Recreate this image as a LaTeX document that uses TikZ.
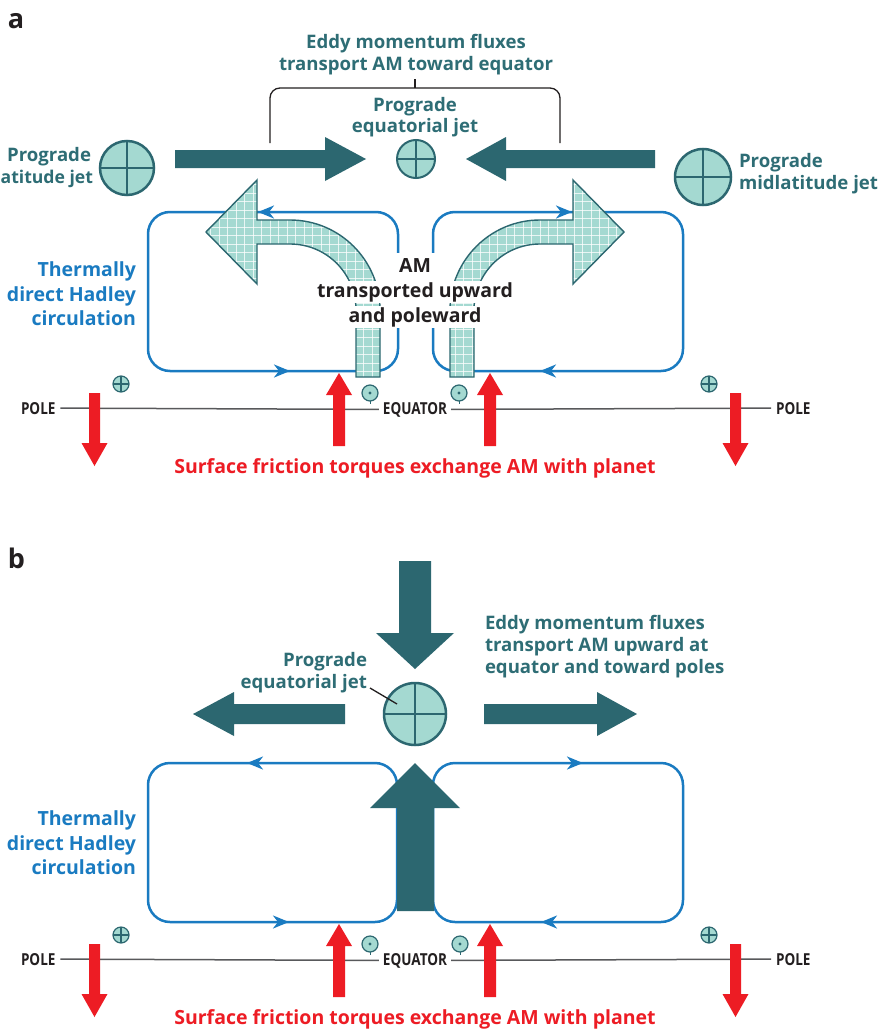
\documentclass[tikz,border=0pt]{standalone}
\usepackage{fontspec}
\usepackage{graphicx}
\setmainfont{Open Sans}
\usetikzlibrary{arrows.meta}
\definecolor{tealdark}{HTML}{2C6770}
\definecolor{tealtext}{HTML}{2E6D75}
\definecolor{teallight}{HTML}{A4D9D1}
\definecolor{hblue}{HTML}{1A7BC1}
\definecolor{fred}{HTML}{ED1C24}
\definecolor{txtblack}{HTML}{231F20}
\definecolor{axisgray}{HTML}{58595B}
\newcommand\cond[1]{\scalebox{0.82}[1]{#1}}
\newcommand\jetsym[5]{%
  \node[circle, minimum size=#4, draw=tealdark, fill=teallight, line width=#5] (#1) at (#2,#3) {};
  \draw[tealdark, line width=#5] (#1.north) -- (#1.south) (#1.east) -- (#1.west);}
\newcommand\dotsym[3]{%
  \node[circle, minimum size=16, draw=tealdark, fill=teallight, line width=1.2] (#1) at (#2,#3) {};
  \fill[tealdark] (#1.center) circle[radius=1.6];
  \draw[tealdark, line width=1] (#1.south) -- ++(0,2.5);}
\newcommand\redup[2]{\fill[fred] ({#1-6},{#2+73}) -- ({#1-6},{#2+22}) -- ({#1-13},{#2+22}) -- (#1,#2) -- ({#1+13},{#2+22}) -- ({#1+6},{#2+22}) -- ({#1+6},{#2+73}) -- cycle;}
\newcommand\reddown[2]{\fill[fred] ({#1-5.5},#2) -- ({#1+5.5},#2) -- ({#1+5.5},{#2+50}) -- ({#1+13},{#2+50}) -- (#1,{#2+73}) -- ({#1-13},{#2+50}) -- ({#1-5.5},{#2+50}) -- cycle;}
\def\curvL{(380,377) -- (380,310) .. controls (380,260.3) and (339.7,220) .. (290,220) -- (257,220) -- (257,180) -- (206,232) -- (257,284) -- (257,244) -- (290,244) .. controls (326.5,244) and (356,273.5) .. (356,310) -- (356,377) -- cycle}
\def\curvR{(450,377) -- (450,310) .. controls (450,260.3) and (490.3,220) .. (540,220) -- (573,220) -- (573,180) -- (624,232) -- (573,284) -- (573,244) -- (540,244) .. controls (503.5,244) and (474,273.5) .. (474,310) -- (474,377) -- cycle}
\begin{document}
\begin{tikzpicture}[x=1pt,y=-1pt,
  every node/.style={inner sep=0pt, outer sep=0pt},
  tealtxt/.style={text=tealtext, font=\bfseries\fontsize{18.6}{21}\selectfont, anchor=base},
  bluetxt/.style={text=hblue, font=\bfseries\fontsize{19.5}{22}\selectfont, anchor=base east},
  blacktxt/.style={text=txtblack, font=\bfseries\fontsize{19.5}{22}\selectfont, anchor=base, fill=white, inner xsep=1pt, inner ysep=1.5pt},
  redtxt/.style={text=fred, font=\bfseries\fontsize{19.5}{22}\selectfont, anchor=base},
  axistxt/.style={text=txtblack, font=\bfseries\fontsize{16.5}{17}\selectfont, anchor=base},
  paneltxt/.style={text=txtblack, font=\bfseries\fontsize{27}{28}\selectfont, anchor=base west},
  loopbox/.style={draw=hblue, line width=2.5, rounded corners=22},
  looptip/.style={draw=hblue, line width=2.5, -{Stealth[length=16pt,width=13pt,inset=5pt]}},
  axisline/.style={draw=axisgray, line width=1.5},
  bigarrow/.style={fill=tealdark}
]
\useasboundingbox (0,0) rectangle (879,1030);
\fill[white] (0,0) rectangle (879,1030);

% ================= panel a =================
\node[paneltxt] (labA) at (8,29) {a};
\node[tealtxt] (eddyA1) at (416,49) {Eddy momentum fluxes};
\node[tealtxt] (eddyA2) at (416,71) {transport AM toward equator};
\draw[txtblack, line width=1.3, rounded corners=10] (270,143) -- (270,88) -- (560,88) -- (560,143);
\coordinate (brkTop) at (415,79);
\coordinate (brkMid) at (415,88);
\draw[txtblack, line width=1.3] (brkMid) -- (brkTop);
\node[tealtxt] (eqjetA1) at (415,112) {Prograde};
\node[tealtxt] (eqjetA2) at (415,132) {equatorial jet};

% eddy arrows
\fill[bigarrow] (175,150) -- (325,150) -- (325,137) -- (366,159) -- (325,181) -- (325,168) -- (175,168) -- cycle;
\fill[bigarrow] (655,150) -- (506,150) -- (506,137) -- (466,159) -- (506,181) -- (506,168) -- (655,168) -- cycle;

\jetsym{jetA}{416}{159}{38}{2}
\jetsym{jetAL}{127}{168}{54}{2.5}
\jetsym{jetAR}{703}{177}{56}{2.5}
\node[tealtxt, anchor=base east] (ljetA1) at (91,161) {Prograde};
\node[tealtxt, anchor=base east, font=\bfseries\fontsize{17.6}{21}\selectfont] (ljetA2) at (93,183) {atitude jet};
\node[tealtxt, anchor=base west] (rjetA1) at (739,167) {Prograde};
\node[tealtxt, anchor=base west] (rjetA2) at (739,189) {midlatitude jet};

% Hadley cells
\draw[loopbox] (148,212) rectangle (398,371);
\draw[loopbox] (433,212) rectangle (683,371);
\draw[looptip] (285,212) -- (258,212);
\draw[looptip] (263,371) -- (290,371);
\draw[looptip] (545,212) -- (572,212);
\draw[looptip] (567,371) -- (540,371);

% curved arrows
\fill[teallight] \curvL;
\begin{scope}
  \clip \curvL;
  \foreach \gx in {202,210.5,...,392} \draw[white, line width=0.8, opacity=0.75] (\gx,170) -- (\gx,380);
  \foreach \gy in {176,184.5,...,380} \draw[white, line width=0.8, opacity=0.75] (200,\gy) -- (392,\gy);
\end{scope}
\draw[tealdark, line width=1.4, line join=miter] \curvL;
\fill[teallight] \curvR;
\begin{scope}
  \clip \curvR;
  \foreach \gx in {438,446.5,...,630} \draw[white, line width=0.8, opacity=0.75] (\gx,170) -- (\gx,380);
  \foreach \gy in {176,184.5,...,380} \draw[white, line width=0.8, opacity=0.75] (440,\gy) -- (630,\gy);
\end{scope}
\draw[tealdark, line width=1.4, line join=miter] \curvR;

\fill[white] (390,253) rectangle (441,327);
\node[blacktxt] (amA1) at (415,272) {AM};
\node[blacktxt] (amA2) at (415,297) {transported upward};
\node[blacktxt] (amA3) at (415,322) {and poleward};

\node[bluetxt] (hadA1) at (136,276) {Thermally};
\node[bluetxt] (hadA2) at (136,301) {direct Hadley};
\node[bluetxt] (hadA3) at (136,325) {circulation};

% surface
\jetsym{smA1}{121}{384}{16}{1.2}
\jetsym{smA2}{709}{384}{16}{1.2}
\dotsym{dotA1}{370}{393}
\dotsym{dotA2}{459}{393}
\node[axistxt, anchor=base west] (poleAL) at (21,414) {\cond{POLE}};
\node[axistxt] (eqA) at (415,414) {\cond{EQUATOR}};
\node[axistxt, anchor=base west] (poleAR) at (776,414) {\cond{POLE}};
\draw[axisline] ([xshift=5]poleAL.east) -- ([xshift=-4]eqA.west);
\draw[axisline] ([xshift=4]eqA.east) -- ([xshift=-5]poleAR.west);
\reddown{94.5}{393}
\reddown{735.5}{393}
\redup{339}{373}
\redup{490}{373}
\node[redtxt] (fricA) at (415,473) {Surface friction torques exchange AM with planet};

% ================= panel b =================
\node[paneltxt] (labB) at (8,568) {b};
\fill[bigarrow] (399,561) -- (431,561) -- (431,633) -- (454,633) -- (415,669) -- (376,633) -- (399,633) -- cycle;
\fill[bigarrow] (345,704) -- (234,704) -- (234,692) -- (193,714) -- (234,736) -- (234,724) -- (345,724) -- cycle;
\fill[bigarrow] (484,704) -- (597,704) -- (597,692) -- (637,714) -- (597,736) -- (597,724) -- (484,724) -- cycle;
\jetsym{jetB}{415}{714}{62}{2.5}
\node[tealtxt, anchor=base east] (eqjetB1) at (367,666) {Prograde};
\node[tealtxt, anchor=base east] (eqjetB2) at (367,688) {equatorial jet};
\coordinate (leadS) at (370,688);
\coordinate (leadE) at (397,704);
\draw[txtblack, line width=1.3] (leadS) -- (leadE);
\node[tealtxt, anchor=base west] (eddyB1) at (485,629) {Eddy momentum fluxes};
\node[tealtxt, anchor=base west] (eddyB2) at (485,651) {transport AM upward at};
\node[tealtxt, anchor=base west] (eddyB3) at (485,673) {equator and toward poles};

\draw[loopbox] (148,763) rectangle (397,922);
\draw[loopbox] (433,763) rectangle (683,922);
\draw[looptip] (274,763) -- (247,763);
\draw[looptip] (262,922) -- (289,922);
\draw[looptip] (556,763) -- (583,763);
\draw[looptip] (568,922) -- (541,922);
\fill[bigarrow] (397,911) -- (397,808) -- (370,808) -- (415,763) -- (460,808) -- (434,808) -- (434,911) -- cycle;

\node[bluetxt] (hadB1) at (136,825) {Thermally};
\node[bluetxt] (hadB2) at (136,850) {direct Hadley};
\node[bluetxt] (hadB3) at (136,874) {circulation};

\jetsym{smB1}{121}{935}{16}{1.2}
\jetsym{smB2}{709}{935}{16}{1.2}
\dotsym{dotB1}{370}{944}
\dotsym{dotB2}{460}{944}
\node[axistxt, anchor=base west] (poleBL) at (21,965) {\cond{POLE}};
\node[axistxt] (eqB) at (415,965) {\cond{EQUATOR}};
\node[axistxt, anchor=base west] (poleBR) at (776,965) {\cond{POLE}};
\draw[axisline] ([xshift=5]poleBL.east) -- ([xshift=-4]eqB.west);
\draw[axisline] ([xshift=4]eqB.east) -- ([xshift=-5]poleBR.west);
\reddown{94.5}{944}
\reddown{735.5}{944}
\redup{339}{924}
\redup{490}{924}
\node[redtxt] (fricB) at (415,1024) {Surface friction torques exchange AM with planet};
\end{tikzpicture}
\end{document}
